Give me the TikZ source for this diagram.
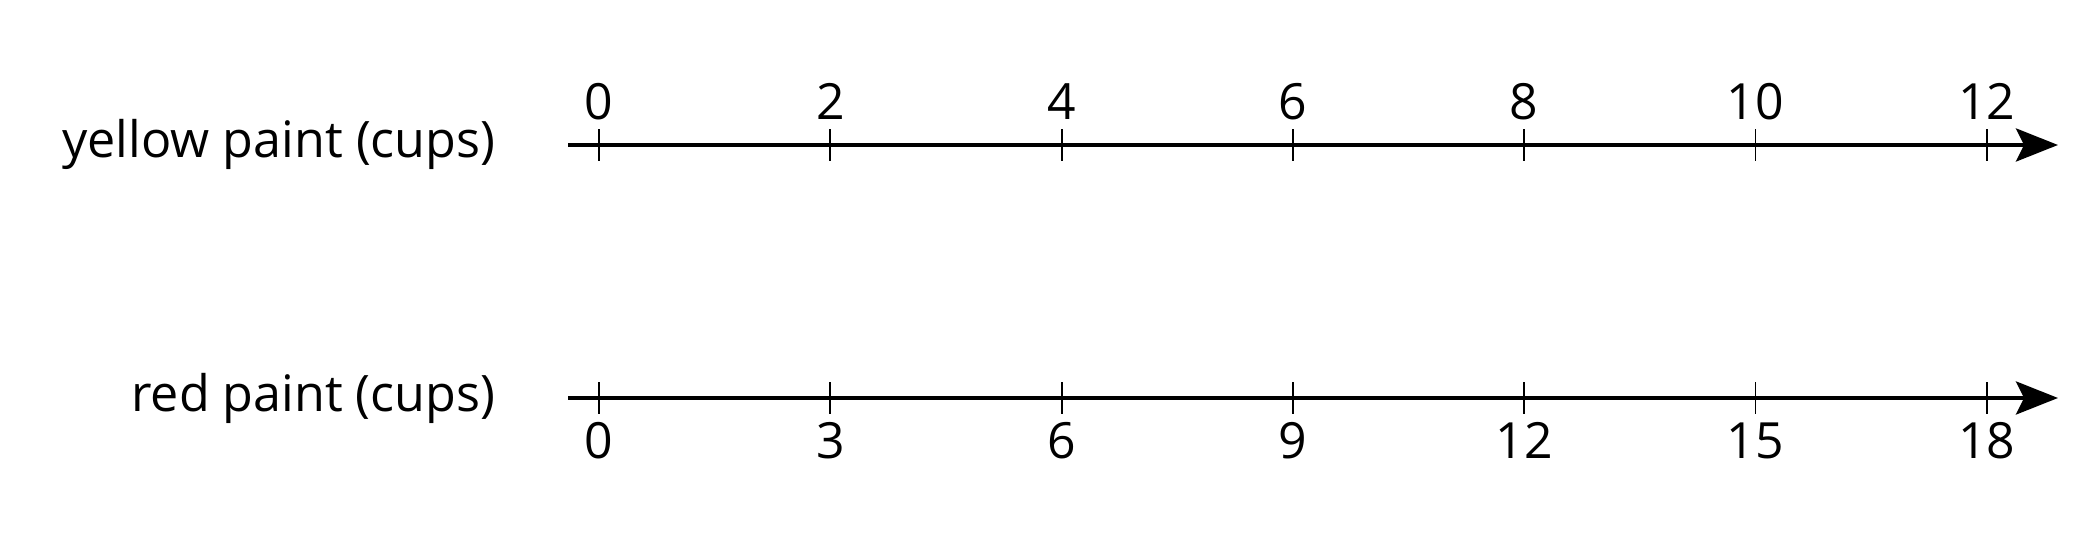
\documentclass[tikz,border=0pt]{standalone}
\usepackage{fontspec}
\setmainfont{Open Sans}
\usetikzlibrary{arrows.meta}
\tikzset{
  axisline/.style={line width=1.2pt, -{Stealth[length=0.42cm, width=0.33cm, inset=0.08cm]}},
  tickmark/.style={line width=0.55pt},
  numlbl/.style={anchor=base, inner sep=0pt, font=\fontsize{14.2}{16}\selectfont},
  axislbl/.style={anchor=base east, inner sep=0pt, font=\fontsize{14.3}{16}\selectfont}
}
\begin{document}
\begin{tikzpicture}[x=1cm,y=1cm]
\useasboundingbox (0,0) rectangle (21,5.46);
% top axis
\coordinate (ys) at (5.68,4.01);
\coordinate (ye) at (20.58,4.01);
\draw[axisline] (ys) -- (ye);
\node[axislbl] (ylab) at (4.96,3.88) {yellow paint (cups)};
\foreach \i/\v in {0/0,1/2,2/4,3/6,4/8,5/10,6/12}{
  \coordinate (yt\i) at ({5.99+\i*2.313},4.01);
  \draw[tickmark] ([yshift=-0.16cm]yt\i) -- ([yshift=0.16cm]yt\i);
  \node[numlbl] (yn\i) at ({5.99+\i*2.313},4.26) {\v};
}
% bottom axis
\coordinate (rs) at (5.68,1.48);
\coordinate (re) at (20.58,1.48);
\draw[axisline] (rs) -- (re);
\node[axislbl] (rlab) at (4.96,1.34) {red paint (cups)};
\foreach \i/\v in {0/0,1/3,2/6,3/9,4/12,5/15,6/18}{
  \coordinate (rt\i) at ({5.99+\i*2.313},1.48);
  \draw[tickmark] ([yshift=-0.16cm]rt\i) -- ([yshift=0.16cm]rt\i);
  \node[numlbl] (rn\i) at ({5.99+\i*2.313},0.87) {\v};
}
\end{tikzpicture}
\end{document}
